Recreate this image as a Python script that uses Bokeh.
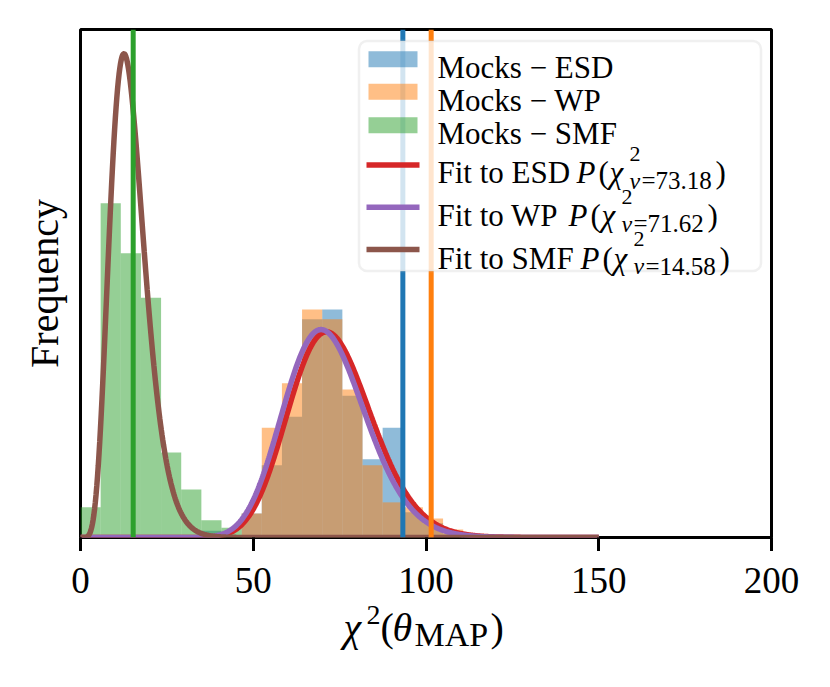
import math
import numpy as np
from bokeh.plotting import figure
from bokeh.layouts import column
from bokeh.models import (Range1d, FixedTicker, Span, BoxAnnotation, Label,
                          CustomJSTickFormatter)
from bokeh.embed import file_html
from bokeh.resources import INLINE

# ---------------- data ----------------
green_edges = [0.00, 5.83, 11.66, 17.49, 23.32, 29.15, 34.98, 40.81, 46.64]
green_density = [0.0049, 0.0542, 0.0461, 0.0389, 0.0138, 0.0078, 0.0028, 0.0016]

blue_edges = [34.98, 40.81, 46.64, 52.47, 58.30, 64.13, 69.96, 75.79, 81.62,
              87.45, 93.28, 99.11, 104.94, 110.77]
blue_density = [0.0011, 0.0, 0.0039, 0.0117, 0.0196, 0.0354, 0.0370, 0.0230,
                0.0127, 0.0178, 0.0041, 0.0023, 0.0006]

orange_edges = [46.64, 52.47, 58.30, 64.13, 69.96, 75.79, 81.62, 87.45, 93.28,
                99.11, 104.94, 110.77]
orange_density = [0.0039, 0.0178, 0.0250, 0.0370, 0.0354, 0.0240, 0.0117,
                  0.0057, 0.0049, 0.0031, 0.0013]

obs_chi2_esd = 93.3
obs_chi2_wp = 101.5
obs_chi2_smf = 15.25

nu_esd = 73.18
nu_wp = 71.62
nu_smf = 14.58
fit_xmax = 150.0

x_ticks = [0, 50, 100, 150, 200]

# ---------------- style ----------------
BLUE, ORANGE, GREEN = "#1f77b4", "#ff7f0e", "#2ca02c"
RED, PURPLE, BROWN = "#d62728", "#9467bd", "#8c564b"
SERIF = "Liberation Serif"
YMAX = 0.0824

# frame in page pixels: left 80, right 771, top 29, bottom 537
FL, FR, FT, FB = 80, 771, 29, 537
TICK = 14
MAIN_H = FB + TICK          # main canvas ends right under the ticks
QT = 594                    # top of the x-label frame
QB = 680                    # bottom of the page content


def X(px):
    return (px - FL) / (FR - FL) * 200.0


def Y(py):
    return (FB - py) / (FB - FT) * YMAX


def chi2_pdf(x, k):
    x = np.asarray(x, dtype=float)
    out = np.zeros_like(x)
    m = x > 0
    lg = (k / 2 - 1) * np.log(x[m]) - x[m] / 2 - (k / 2) * math.log(2) - math.lgamma(k / 2)
    out[m] = np.exp(lg)
    return out


p = figure(frame_width=FR - FL, frame_height=FB - FT,
           output_backend="svg", toolbar_location=None,
           x_range=Range1d(0, 200), y_range=Range1d(0, YMAX),
           min_border_left=FL, min_border_right=43, min_border_top=FT,
           min_border_bottom=TICK, title=None)
p.background_fill_color = "white"
p.border_fill_color = "white"
p.outline_line_color = "black"
p.outline_line_width = 3
p.xgrid.visible = False
p.ygrid.visible = False

ax = p.xaxis[0]
ax.ticker = FixedTicker(ticks=x_ticks)
ax.formatter = CustomJSTickFormatter(code="return '';")
ax.axis_line_color = None
ax.major_tick_in = 0
ax.major_tick_out = TICK
ax.major_tick_line_width = 3
ax.major_tick_line_color = "black"
ax.minor_tick_line_color = None
ax.major_label_standoff = 0

ay = p.yaxis[0]
ay.ticker = FixedTicker(ticks=[])
ay.axis_line_color = None
ay.major_tick_in = 0
ay.major_tick_out = 0
ay.minor_tick_line_color = None
ay.major_label_standoff = 0
ay.axis_label = "Frequency"
ay.axis_label_text_font = SERIF
ay.axis_label_text_font_size = "40px"
ay.axis_label_text_font_style = "normal"
ay.axis_label_text_color = "black"
ay.axis_label_standoff = 14


def hist(edges, dens, color):
    p.quad(left=edges[:-1], right=edges[1:], bottom=0, top=dens,
           fill_color=color, fill_alpha=0.5, line_color=None)


hist(blue_edges, blue_density, BLUE)
hist(orange_edges, orange_density, ORANGE)
hist(green_edges, green_density, GREEN)

xs = np.linspace(0, fit_xmax, 700)
for nu, col in ((nu_esd, RED), (nu_wp, PURPLE), (nu_smf, BROWN)):
    p.line(xs, chi2_pdf(xs, nu), line_color=col, line_width=5.5)

for loc, col in ((obs_chi2_esd, BLUE), (obs_chi2_wp, ORANGE), (obs_chi2_smf, GREEN)):
    p.add_layout(Span(location=loc, dimension="height", line_color=col, line_width=5))

# ---------------- legend (drawn by hand to keep sub/superscripts) -------------
p.add_layout(BoxAnnotation(left=X(358.5), right=X(760.5), top=Y(40.5), bottom=Y(270.5),
                           border_radius=8, fill_color="white", fill_alpha=0.8,
                           line_color="#cccccc", line_width=2.5))


def txt(fig, s, x, y, size, italic=False):
    fig.add_layout(Label(x=x, y=y, text=s, text_font=SERIF,
                         text_font_size=f"{size}px",
                         text_font_style="italic" if italic else "normal",
                         text_align="left", text_baseline="alphabetic",
                         text_color="black"))


def ltxt(s, px, py, size, italic=False):
    txt(p, s, X(px), Y(py), size, italic)


LF = 31     # legend font
SF = 24     # legend subscript font
patch_rows = [(BLUE, "Mocks − ESD", 58.7, 67.0), (ORANGE, "Mocks − WP", 91.3, 99.8),
              (GREEN, "Mocks − SMF", 124.7, 133.0)]
for col, lab, cy, base in patch_rows:
    p.add_layout(BoxAnnotation(left=X(368), right=X(417), top=Y(cy - 8), bottom=Y(cy + 8),
                               fill_color=col, fill_alpha=0.5, line_color=None))
    ltxt(lab, 437, base, LF)

line_rows = [(RED, "Fit to ESD", nu_esd, 164.5, 172.0, 576),
             (PURPLE, "Fit to WP", nu_wp, 206.7, 215.0, 568),
             (BROWN, "Fit to SMF", nu_smf, 249.0, 257.5, 580)]
for col, lab, nu, cy, base, xp in line_rows:
    p.add_layout(BoxAnnotation(left=X(366), right=X(419), top=Y(cy - 2.7), bottom=Y(cy + 2.7),
                               fill_color=col, fill_alpha=1.0, line_color=None))
    ltxt(lab, 437, base, LF)
    ltxt("P", xp, base, LF, italic=True)
    ltxt("(", xp + 22, base, LF)
    ltxt("χ", xp + 33, base, LF, italic=True)
    ltxt("2", xp + 53, base - 19, 22)
    ltxt("ν", xp + 53, base + 8, SF, italic=True)
    ltxt(f"={nu:.2f}", xp + 65, base + 8, SF + 1)
    ltxt(")", xp + 65 + 74, base, LF)

# ---------------- tick labels + x-axis label (canvas directly under the ticks) --
q = figure(frame_width=FR - FL, frame_height=QB - QT,
           output_backend="svg", toolbar_location=None,
           x_range=p.x_range, y_range=Range1d(QB, QT),
           x_axis_location="above", y_axis_type=None,
           min_border_left=FL, min_border_right=43, min_border_top=QT - MAIN_H,
           min_border_bottom=0, title=None)
q.outline_line_color = None
q.background_fill_color = "white"
q.border_fill_color = "white"
q.xgrid.visible = False
q.ygrid.visible = False
bx = q.xaxis[0]
bx.ticker = FixedTicker(ticks=x_ticks)
bx.axis_line_color = None
bx.major_tick_in = 0
bx.major_tick_out = 0
bx.minor_tick_line_color = None
bx.major_label_text_font = SERIF
bx.major_label_text_font_size = "37px"
bx.major_label_text_color = "black"
bx.major_label_standoff = 2

txt(q, "χ", X(343), 627, 40, italic=True)
txt(q, "2", X(366), 614, 28)
txt(q, "(", X(380), 627, 40)
txt(q, "θ", X(392), 627, 40, italic=True)
txt(q, "MAP", X(414), 634, 34)
txt(q, ")", X(490), 627, 40)

layout = column(p, q, spacing=0)
open("out.html", "w").write(file_html(layout, INLINE))
